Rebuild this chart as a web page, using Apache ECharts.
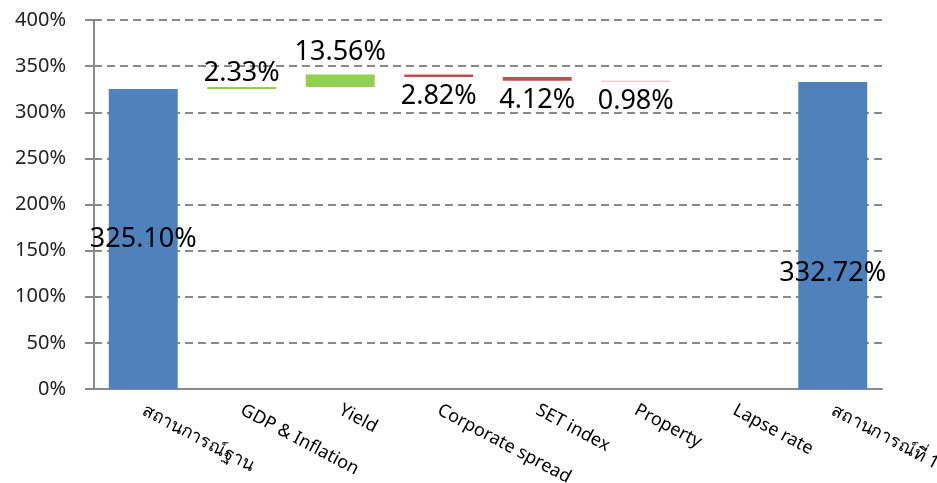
<!DOCTYPE html>
<html lang="th">
<head>
	<meta charset="UTF-8">
	<title>Waterfall</title>
	<script src="https://cdn.jsdelivr.net/npm/echarts@6/dist/echarts.min.js"></script>
	<style>
		html, body { margin: 0; padding: 0; background: #fff; }
	</style>
</head>
<body>
	<div id="main" style="width: 937px; height: 483px;"></div>
	<script>
		// categories along the x axis
		const categories = ['สถานการณ์ฐาน', 'GDP & Inflation', 'Yield', 'Corporate spread', 'SET index', 'Property', 'Lapse rate', 'สถานการณ์ที่ 1']
		// start and end totals (%)
		const startValue = 325.10
		const endValue = 332.72
		// change per factor (%), in order of categories[1..6]
		const changes = [2.33, 13.56, -2.82, -4.12, -0.98, -0.35]
		// colour for each change bar
		const changeColors = ['#92D050', '#92D050', '#C0504D', '#C0504D', '#E6B9B8', '#FFFFFF']
		// which change bars carry a label
		const showChangeLabel = [true, true, true, true, true, false]
		const yTicks = [0, 50, 100, 150, 200, 250, 300, 350, 400]

		const n = categories.length
		// invisible base, totals and the changes, built from the arrays above
		let base = ['-'], totals = [startValue], ups = ['-'], downs = ['-']
		let level = startValue
		for (let i = 0; i < changes.length; i++) {
			const c = changes[i]
			const item = {
				value: Math.abs(c),
				itemStyle: {color: changeColors[i]},
				label: {show: showChangeLabel[i]}
			}
			if (c >= 0) {
				// thicker bars sit their label a little higher
				if (c > 10) item.label.distance = 9
				base.push(level)
				ups.push(item)
				downs.push('-')
			} else {
				base.push(level + c)
				ups.push('-')
				downs.push(item)
			}
			totals.push('-')
			level += c
		}
		base.push('-')
		totals.push(endValue)
		ups.push('-')
		downs.push('-')

		const labelFont = {
			fontFamily: 'Noto Sans, sans-serif',
			fontSize: 27,
			color: '#000'
		}

		const myChart = echarts.init(document.getElementById('main'))
		const option = {
			animation: false,
			grid: {
				left: 94,
				right: 55,
				top: 20,
				bottom: 94,
				outerBoundsMode: 'none'
			},
			xAxis: {
				type: 'category',
				data: categories,
				axisLine: {lineStyle: {color: '#898989', width: 2}},
				axisTick: {alignWithLabel: true, length: 6, lineStyle: {color: '#898989', width: 2}},
				axisLabel: {
					rotate: -28,
					margin: 20,
					interval: 0,
					fontFamily: 'Noto Sans, sans-serif',
					fontSize: 18,
					color: '#000'
				}
			},
			yAxis: {
				type: 'value',
				min: yTicks[0],
				max: yTicks[yTicks.length - 1],
				interval: yTicks[1] - yTicks[0],
				axisLine: {show: true, lineStyle: {color: '#898989', width: 2}},
				axisTick: {show: true, length: 9, lineStyle: {color: '#898989', width: 2}},
				axisLabel: {
					formatter: '{value}%',
					margin: 28,
					fontFamily: 'Noto Sans, sans-serif',
					fontSize: 20,
					color: '#222'
				},
				splitLine: {
					lineStyle: {color: '#898989', width: 2, type: [8, 5]}
				}
			},
			series: [
				{
					name: 'base',
					type: 'bar',
					stack: 'w',
					barWidth: '70%',
					itemStyle: {color: 'transparent'},
					silent: true,
					data: base
				},
				{
					name: 'total',
					type: 'bar',
					stack: 'w',
					barWidth: '70%',
					itemStyle: {color: '#4F81BD'},
					label: Object.assign({
						show: true,
						position: 'inside',
						formatter: function (p) { return p.value.toFixed(2) + '%' }
					}, labelFont),
					data: totals.map(function (v, i) {
						if (v === '-') return v
						return i === n - 1 ? {value: v, label: {offset: [0, 38]}} : v
					})
				},
				{
					name: 'increase',
					type: 'bar',
					stack: 'w',
					barWidth: '70%',
					label: Object.assign({
						position: 'top',
						distance: 0,
						formatter: function (p) { return p.value.toFixed(2) + '%' }
					}, labelFont),
					data: ups
				},
				{
					name: 'decrease',
					type: 'bar',
					stack: 'w',
					barWidth: '70%',
					label: Object.assign({
						position: 'bottom',
						distance: 6,
						formatter: function (p) { return p.value.toFixed(2) + '%' }
					}, labelFont),
					data: downs
				}
			]
		}
		myChart.setOption(option)
	</script>
</body>
</html>
